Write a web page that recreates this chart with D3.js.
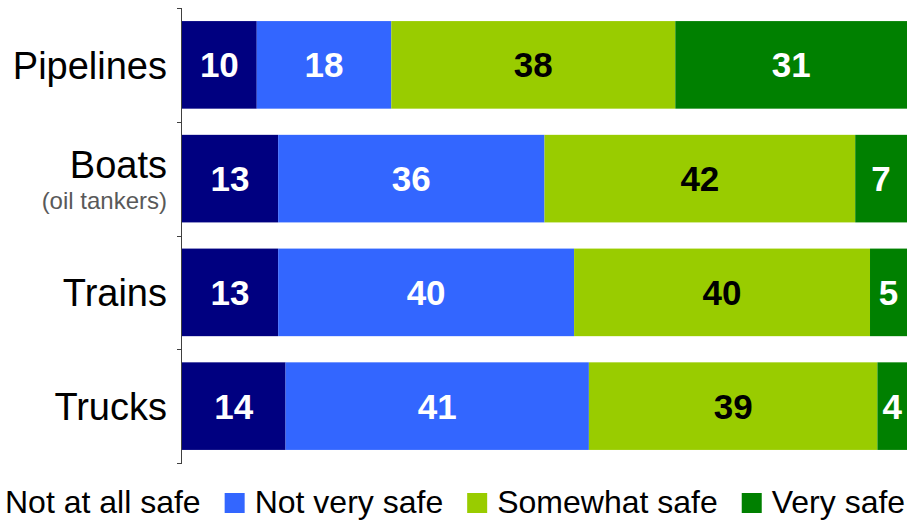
<!DOCTYPE html>
<html>
<head>
<meta charset="utf-8">
<script src="https://cdn.jsdelivr.net/npm/d3@7"></script>
<style>
  html, body { margin: 0; padding: 0; background: #fff; }
  svg { display: block; font-family: "Liberation Sans", Arial, sans-serif; }
</style>
</head>
<body>
<svg id="chart" width="912" height="521"></svg>
<script>
const categories = ["Pipelines", "Boats", "Trains", "Trucks"];
const subLabels = ["", "(oil tankers)", "", ""];
const seriesNames = ["Not at all safe", "Not very safe", "Somewhat safe", "Very safe"];
const notAtAllSafe = [10, 13, 13, 14];
const notVerySafe = [18, 36, 40, 41];
const somewhatSafe = [38, 42, 40, 39];
const verySafe = [31, 7, 5, 4];
const seriesColors = ["#000080", "#3366FF", "#99CC00", "#008000"];
const labelColors = ["#ffffff", "#ffffff", "#000000", "#ffffff"];

const seriesValues = [notAtAllSafe, notVerySafe, somewhatSafe, verySafe];
const rows = categories.map((c, i) => {
  const r = { category: c };
  seriesNames.forEach((s, j) => { r[s] = seriesValues[j][i]; });
  return r;
});

const svg = d3.select("#chart");
const plotLeft = 182, plotRight = 907, plotTop = 8, plotBottom = 463;

const y = d3.scaleBand().domain(categories).range([plotTop, plotBottom])
  .paddingInner(0.23).paddingOuter(0.115);
const x = d3.scaleLinear().domain([0, 1]).range([plotLeft, plotRight]);

const stack = d3.stack().keys(seriesNames).offset(d3.stackOffsetExpand);
const stacked = stack(rows);

const layers = svg.append("g").selectAll("g").data(stacked).join("g")
  .attr("fill", (d, i) => seriesColors[i]);

layers.selectAll("rect").data(d => d).join("rect")
  .attr("x", d => x(d[0]))
  .attr("y", d => y(d.data.category))
  .attr("width", d => x(d[1]) - x(d[0]))
  .attr("height", y.bandwidth());

layers.each(function(layer, i) {
  d3.select(this).selectAll("text").data(layer).join("text")
    .attr("x", d => (x(d[0]) + x(d[1])) / 2)
    .attr("y", d => y(d.data.category) + y.bandwidth() / 2)
    .attr("dy", "0.36em")
    .attr("text-anchor", "middle")
    .attr("font-size", 35)
    .attr("font-weight", "bold")
    .attr("fill", labelColors[i])
    .text(d => d.data[layer.key]);
});

// Axis with ticks at band boundaries
const axisG = svg.append("g");
axisG.append("line")
  .attr("x1", plotLeft - 0.5).attr("x2", plotLeft - 0.5)
  .attr("y1", plotTop).attr("y2", plotBottom)
  .attr("stroke", "#404040").attr("stroke-width", 1);
const boundaries = categories.map(c => y(c) - y.step() * y.paddingInner() / 2);
boundaries.push(plotBottom);
axisG.selectAll("line.tick").data(boundaries).join("line")
  .attr("class", "tick")
  .attr("x1", plotLeft - 5).attr("x2", plotLeft)
  .attr("y1", d => Math.round(d) + 0.5).attr("y2", d => Math.round(d) + 0.5)
  .attr("stroke", "#404040").attr("stroke-width", 1);

// Category labels
categories.forEach((c, i) => {
  const cy = y(c) + y.bandwidth() / 2;
  svg.append("text")
    .attr("x", 167)
    .attr("y", subLabels[i] ? cy - 1 : cy + 14)
    .attr("text-anchor", "end")
    .attr("font-size", 38)
    .attr("fill", "#000")
    .text(c);
  if (subLabels[i]) {
    svg.append("text")
      .attr("x", 167)
      .attr("y", cy + 30)
      .attr("text-anchor", "end")
      .attr("font-size", 24)
      .attr("fill", "#595959")
      .text(subLabels[i]);
  }
});

// Legend
const legend = svg.append("g");
let lx = -25;
seriesNames.forEach((s, i) => {
  legend.append("rect")
    .attr("x", lx).attr("y", 493)
    .attr("width", 20).attr("height", 20)
    .attr("fill", seriesColors[i]);
  const t = legend.append("text")
    .attr("x", lx + 30).attr("y", 513)
    .attr("font-size", 32)
    .attr("fill", "#000")
    .text(s);
  lx += 30 + t.node().getComputedTextLength() + 24;
});
</script>
</body>
</html>
